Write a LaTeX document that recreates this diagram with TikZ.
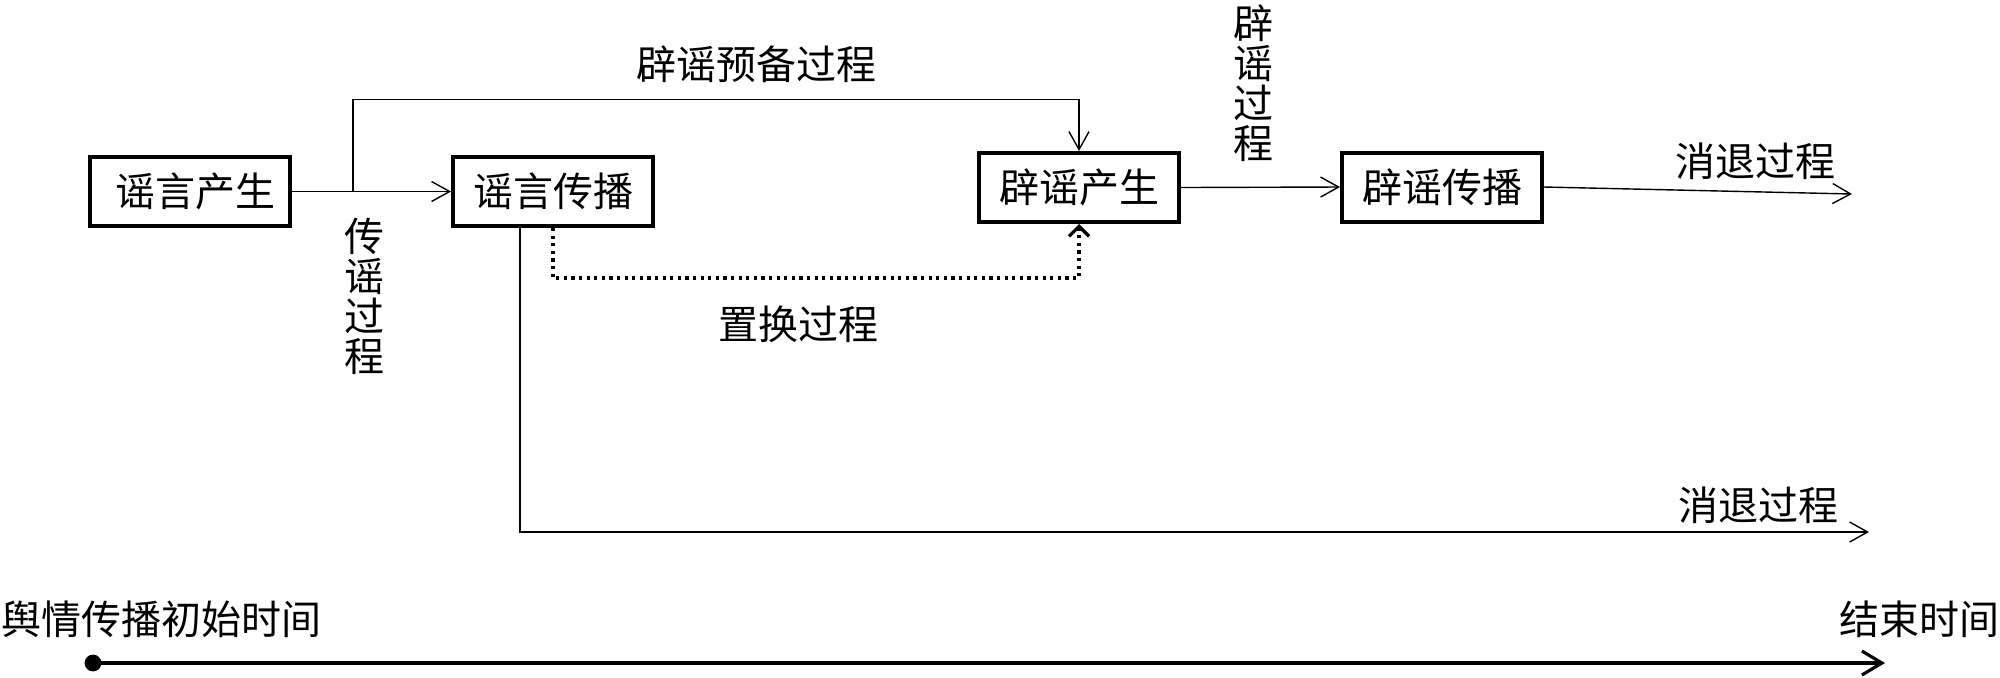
\documentclass[tikz,border=0pt]{standalone}
\usepackage{fontspec}
\setmainfont{Noto Sans CJK SC}
\usetikzlibrary{arrows.meta}
\begin{document}
\begin{tikzpicture}[x=0.5pt,y=-0.5pt,
  box/.style={draw,line width=2pt,minimum width=100pt,minimum height=34.5pt,inner sep=0pt,font=\fontsize{20}{24}\selectfont},
  lbl/.style={inner sep=0pt,font=\fontsize{20}{24}\selectfont},
  vlbl/.style={inner sep=0pt,align=center,font=\fontsize{20}{20}\selectfont},
  conn/.style={line width=0.7pt,-{Straight Barb[length=9pt,width=10pt]}},
  dotconn/.style={line width=2pt,dash pattern=on 1.6pt off 2.2pt,-{Straight Barb[length=5pt,width=10pt,line width=1.6pt]}},
  axis/.style={line width=1.6pt,-{Straight Barb[length=10pt,width=12pt]}}
  ]
\useasboundingbox (0,0) rectangle (2000,677);
% boxes
\node[box] (b1) at (189.5,191.5) {\hspace*{6.4pt}谣言产生};
\node[box] (b2) at (553,191.5) {谣言传播};
\node[box] (b3) at (1079,187.5) {辟谣产生};
\node[box] (b4) at (1442,187) {辟谣传播};
% coordinates
\coordinate (br) at (353,191.5);
\coordinate (top) at (353,99.5);
\coordinate (e1) at (1852,194);
\coordinate (c2) at (520,532);
\coordinate (e2) at (1869,532);
\coordinate (dl) at (553,278);
\coordinate (ax0) at (93,663);
\coordinate (ax1) at (1885,663);
% connectors
\draw[conn] (b1.east) -- (b2.west);
\draw[conn] (br) -- (top) -| (b3.north);
\draw[conn] (b3.east) -- (b4.west);
\draw[conn] (b4.east) -- (e1);
\draw[conn] (c2 |- b2.south) -- (c2) -- (e2);
\draw[dotconn] (b2.south) -- (dl) -| (b3.south);
% axis
\draw[axis] (ax0) -- (ax1);
\fill (ax0) circle (4.2pt);
% labels
\node[lbl] (l1) at (756,64) {辟谣预备过程};
\node[vlbl] (l2) at (364,296) {传\\谣\\过\\程};
\node[vlbl] (l3) at (1253,83) {辟\\谣\\过\\程};
\node[lbl] (l4) at (798,324) {置换过程};
\node[lbl] (l5) at (1755,161) {消退过程};
\node[lbl] (l6) at (1758,505) {消退过程};
\node[lbl,anchor=west] (l7) at (1,619) {舆情传播初始时间};
\node[lbl,anchor=east] (l8) at (2000,619) {结束时间};
\end{tikzpicture}
\end{document}
